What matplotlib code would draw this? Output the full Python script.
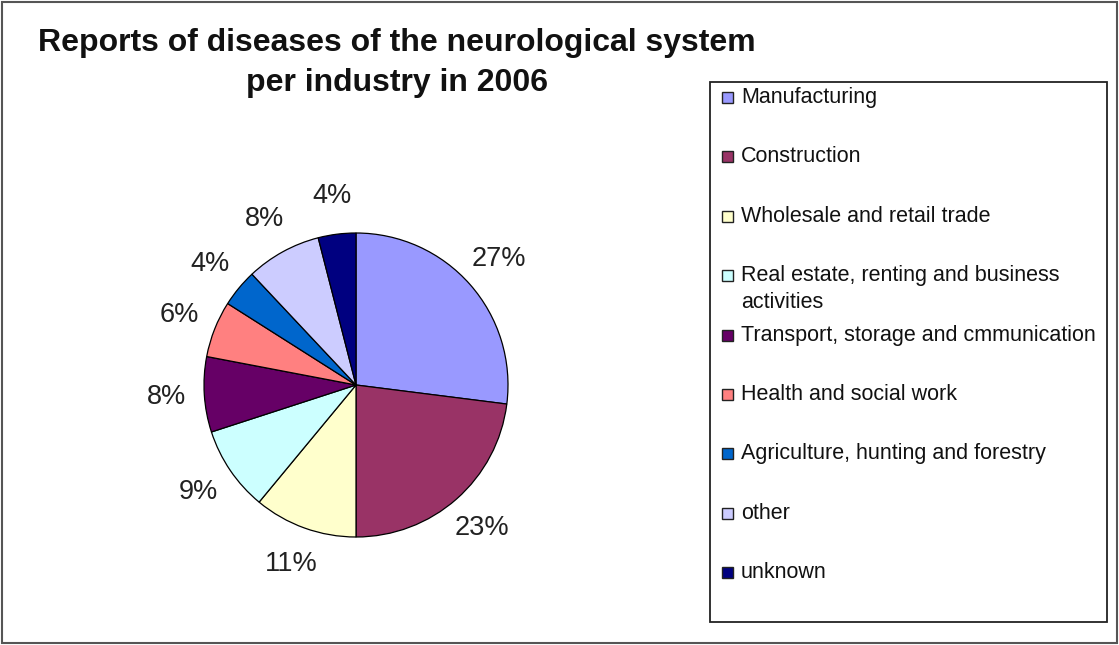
import matplotlib
matplotlib.use("Agg")
import matplotlib.pyplot as plt
from matplotlib.patches import Rectangle

plt.rcParams["font.family"] = ["Liberation Sans", "DejaVu Sans"]

TITLE = "Reports of diseases of the neurological system\nper industry in 2006"
INDUSTRIES = ["Manufacturing", "Construction", "Wholesale and retail trade",
              "Real estate, renting and business\nactivities",
              "Transport, storage and cmmunication", "Health and social work",
              "Agriculture, hunting and forestry", "other", "unknown"]
SHARES = [27, 23, 11, 9, 8, 6, 4, 8, 4]
COLORS = ["#9999FF", "#993366", "#FFFFCC", "#CCFFFF", "#660066",
          "#FF8080", "#0066CC", "#CCCCFF", "#000080"]

W, H = 1119, 645
fig = plt.figure(figsize=(W / 100, H / 100), dpi=100)

# outer chart border
fig.patches.append(Rectangle((2 / W, 2 / H), 1115 / W, 641 / H, transform=fig.transFigure,
                             fill=False, edgecolor="#555555", linewidth=1.5))

fig.text(397 / W, 1 - 63 / H, TITLE, ha="center", va="center", fontsize=23,
         fontweight="bold", linespacing=1.45, color="#111111")

# pie: centre ~(356, 385) px, radius ~152 px
cx, cy, r, half = 356, 385, 152, 200
ax = fig.add_axes([(cx - half) / W, 1 - (cy + half) / H, 2 * half / W, 2 * half / H])
ax.pie(SHARES, colors=COLORS, startangle=90, counterclock=False,
       autopct="%.0f%%", pctdistance=1.25,
       wedgeprops=dict(edgecolor="black", linewidth=0.9),
       textprops=dict(fontsize=19.5, color="#222222"))
lim = half / r
ax.set_xlim(-lim, lim)
ax.set_ylim(-lim, lim)
ax.set_axis_off()

# legend box
lx0, lx1, ly0, ly1 = 710, 1107, 82, 622
fig.patches.append(Rectangle((lx0 / W, 1 - ly1 / H), (lx1 - lx0) / W, (ly1 - ly0) / H,
                             transform=fig.transFigure, fill=False,
                             edgecolor="#222222", linewidth=1.3))
for i, (name, col) in enumerate(zip(INDUSTRIES, COLORS)):
    y = 97 + 59.4 * i
    fig.patches.append(Rectangle((722 / W, 1 - (y + 6) / H), 11 / W, 11 / H,
                                 transform=fig.transFigure, facecolor=col,
                                 edgecolor="#222222", linewidth=1))
    for k, line in enumerate(name.split("\n")):
        fig.text(741 / W, 1 - (y + 6 + 27 * k) / H, line, ha="left", va="baseline",
                 fontsize=15.5, color="#111111")

fig.savefig("out.png", dpi=100)
